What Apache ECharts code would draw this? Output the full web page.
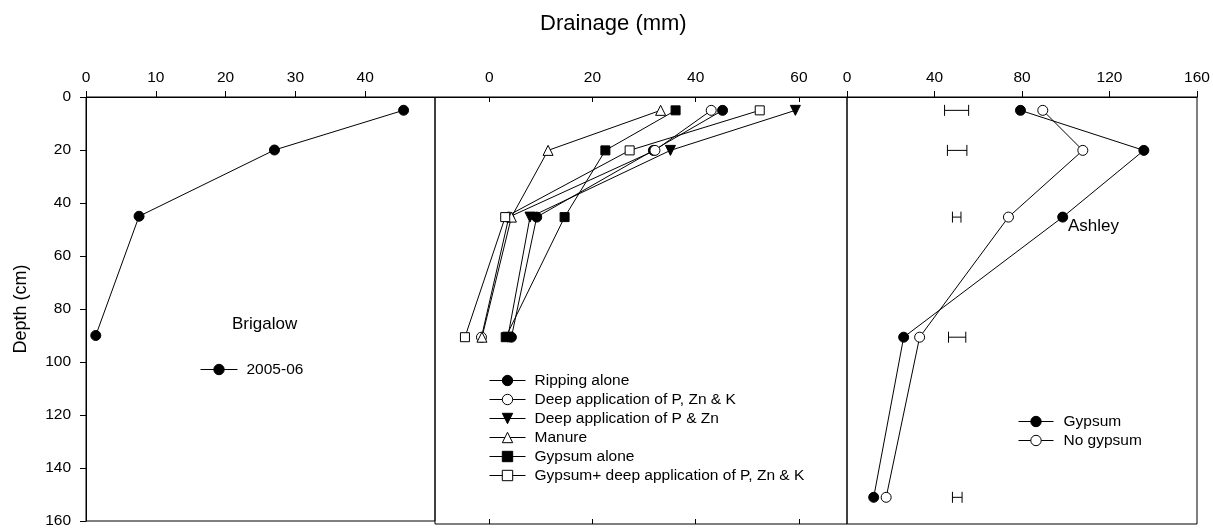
<!DOCTYPE html>
<html>
<head>
<meta charset="utf-8">
<script src="https://cdn.jsdelivr.net/npm/echarts@6/dist/echarts.min.js"></script>
<style>
  html, body { margin: 0; padding: 0; background: #fff; }
  #chart { width: 1213px; height: 529px; }
</style>
</head>
<body>
<div id="chart"></div>
<script>
// Sampling depths (cm)
const depths = [5, 20, 45, 90];
const ashleyDepths = [5, 20, 45, 90, 150];

// Brigalow, drainage (mm) by depth
const brigalow2005 = [45.5, 27.0, 7.6, 1.4];

// Treatment comparison, drainage (mm) by depth
const rippingAlone = [45.2, 31.8, 9.2, 4.3];
const deepPZnK = [43.0, 32.1, 3.8, -1.5];
const deepPZn = [59.3, 35.1, 7.9, 3.6];
const manure = [33.2, 11.4, 4.3, -1.4];
const gypsumAlone = [36.1, 22.5, 14.6, 3.2];
const gypsumDeepPZnK = [52.4, 27.2, 3.1, -4.7];

// Ashley, drainage (mm) by depth
const ashleyGypsum = [79.3, 135.7, 98.6, 25.9, 12.2];
const ashleyNoGypsum = [89.5, 107.8, 73.8, 33.2, 17.9];

// LSD bars at each Ashley depth (left and right ends, mm)
const lsdLow = [44.6, 45.9, 48.2, 46.4, 48.2];
const lsdHigh = [55.6, 54.8, 52.1, 54.3, 52.6];

// Axis tick labels
const brigalowTicks = [0, 10, 20, 30, 40];
const treatmentTicks = [0, 20, 40, 60];

const FONT = '"Liberation Sans", Arial, sans-serif';
const INK = '#000';

const pair = (xs, ys) => xs.map((v, i) => [v, ys[i]]);

const labelStyle = { color: INK, fontSize: 15.5, fontFamily: FONT };

function lineSeries(name, values, ys, xi, yi, symbol, filled, rotate) {
  return {
    name: name,
    type: 'line',
    xAxisIndex: xi,
    yAxisIndex: yi,
    data: pair(values, ys),
    symbol: symbol,
    symbolSize: symbol === 'rect' ? 9 : 10,
    symbolRotate: rotate || 0,
    showAllSymbol: true,
    animation: false,
    lineStyle: { color: INK, width: 1 },
    itemStyle: { color: filled ? INK : '#fff', borderColor: INK, borderWidth: 1 },
    emphasis: { disabled: true },
    z: 3
  };
}

const chart = echarts.init(document.getElementById('chart'), null, { renderer: 'canvas' });

const gridBase = { top: 97, height: 427, show: true, borderColor: INK, borderWidth: 1, backgroundColor: 'transparent', containLabel: false };

// Legend rows: fixed line height so every row is 19px tall; thin keys
const legendText = { color: INK, fontSize: 15.5, fontFamily: FONT, lineHeight: 19, padding: [0, 0, 0, 4] };
const legendKey = {
  orient: 'vertical', padding: 0, itemGap: 0, itemHeight: 13, selectedMode: false,
  lineStyle: { width: 1, color: INK },
  itemStyle: { borderWidth: 1, borderColor: INK }
};

const option = {
  animation: false,
  textStyle: { fontFamily: FONT },
  title: {
    text: 'Drainage (mm)',
    left: 540,
    top: 13,
    padding: 0,
    textStyle: { fontSize: 22, fontWeight: 'normal', color: INK, fontFamily: FONT }
  },
  grid: [
    Object.assign({ left: 86, width: 349 }, gridBase),
    Object.assign({ left: 435, width: 412 }, gridBase),
    Object.assign({ left: 847, width: 350 }, gridBase)
  ],
  xAxis: [
    {
      gridIndex: 0, type: 'value', position: 'top', min: 0, max: 50,
      splitLine: { show: false },
      axisLine: { lineStyle: { color: INK } },
      axisTick: { inside: false, length: 6, lineStyle: { color: INK }, customValues: brigalowTicks },
      axisLabel: Object.assign({ margin: 11, customValues: brigalowTicks }, labelStyle)
    },
    {
      gridIndex: 1, type: 'value', position: 'top', min: -10.5, max: 69.3,
      splitLine: { show: false },
      axisLine: { lineStyle: { color: INK } },
      axisTick: { inside: true, length: 5, lineStyle: { color: INK }, customValues: treatmentTicks },
      axisLabel: Object.assign({ margin: 11, customValues: treatmentTicks }, labelStyle)
    },
    {
      gridIndex: 1, type: 'value', position: 'bottom', min: -10.5, max: 69.3,
      splitLine: { show: false },
      axisLine: { show: false },
      axisTick: { inside: true, length: 5, lineStyle: { color: INK }, customValues: treatmentTicks },
      axisLabel: { show: false }
    },
    {
      gridIndex: 2, type: 'value', position: 'top', min: 0, max: 160, interval: 40,
      splitLine: { show: false },
      axisLine: { lineStyle: { color: INK } },
      axisTick: { inside: false, length: 6, lineStyle: { color: INK } },
      axisLabel: Object.assign({ margin: 11 }, labelStyle)
    }
  ],
  yAxis: [
    {
      gridIndex: 0, type: 'value', inverse: true, min: 0, max: 160, interval: 20,
      name: 'Depth (cm)', nameLocation: 'middle', nameGap: 56,
      nameTextStyle: { color: INK, fontSize: 18, fontFamily: FONT },
      splitLine: { show: false },
      axisLine: { lineStyle: { color: INK } },
      axisTick: { inside: false, length: 6, lineStyle: { color: INK } },
      axisLabel: Object.assign({ margin: 15 }, labelStyle)
    },
    { gridIndex: 1, type: 'value', inverse: true, min: 0, max: 160, show: false },
    { gridIndex: 2, type: 'value', inverse: true, min: 0, max: 160, show: false }
  ],
  legend: [
    Object.assign({
      data: ['2005-06'],
      left: 200, top: 360, itemWidth: 37,
      textStyle: legendText
    }, legendKey),
    Object.assign({
      data: ['Ripping alone', 'Deep application of P, Zn & K', 'Deep application of P & Zn',
             'Manure', 'Gypsum alone', 'Gypsum+ deep application of P, Zn & K'],
      left: 489, top: 371, itemWidth: 36,
      textStyle: legendText
    }, legendKey),
    Object.assign({
      data: ['Gypsum', 'No gypsum'],
      left: 1018, top: 412, itemWidth: 35,
      textStyle: Object.assign({}, legendText, { padding: [0, 0, 0, 5] })
    }, legendKey)
  ],
  graphic: [
    { type: 'text', left: 232, top: 316, style: { text: 'Brigalow', fill: INK, font: '17px ' + FONT } },
    { type: 'text', left: 1068, top: 218, style: { text: 'Ashley', fill: INK, font: '17px ' + FONT } }
  ],
  series: [
    lineSeries('2005-06', brigalow2005, depths, 0, 0, 'circle', true),

    lineSeries('Ripping alone', rippingAlone, depths, 1, 1, 'circle', true),
    lineSeries('Deep application of P, Zn & K', deepPZnK, depths, 1, 1, 'circle', false),
    lineSeries('Deep application of P & Zn', deepPZn, depths, 1, 1, 'triangle', true, 180),
    lineSeries('Manure', manure, depths, 1, 1, 'triangle', false),
    lineSeries('Gypsum alone', gypsumAlone, depths, 1, 1, 'rect', true),
    lineSeries('Gypsum+ deep application of P, Zn & K', gypsumDeepPZnK, depths, 1, 1, 'rect', false),

    lineSeries('Gypsum', ashleyGypsum, ashleyDepths, 3, 2, 'circle', true),
    lineSeries('No gypsum', ashleyNoGypsum, ashleyDepths, 3, 2, 'circle', false),

    {
      name: 'LSD',
      type: 'custom',
      xAxisIndex: 3,
      yAxisIndex: 2,
      animation: false,
      silent: true,
      encode: { x: [0, 1], y: 2 },
      data: ashleyDepths.map((d, i) => [lsdLow[i], lsdHigh[i], d]),
      renderItem: function (params, api) {
        const a = api.coord([api.value(0), api.value(2)]);
        const b = api.coord([api.value(1), api.value(2)]);
        const h = 5.5;
        const st = { stroke: INK, lineWidth: 1 };
        return {
          type: 'group',
          children: [
            { type: 'line', shape: { x1: a[0], y1: a[1], x2: b[0], y2: b[1] }, style: st },
            { type: 'line', shape: { x1: a[0], y1: a[1] - h, x2: a[0], y2: a[1] + h }, style: st },
            { type: 'line', shape: { x1: b[0], y1: b[1] - h, x2: b[0], y2: b[1] + h }, style: st }
          ]
        };
      }
    }
  ]
};

chart.setOption(option);
</script>
</body>
</html>
